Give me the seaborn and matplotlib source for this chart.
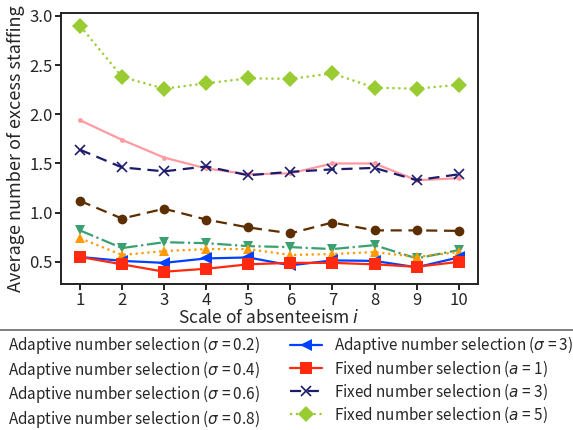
import matplotlib
matplotlib.use("Agg")
import matplotlib.pyplot as plt
import seaborn as sns
import numpy as np
import pandas as pd

scale = [1, 2, 3, 4, 5, 6, 7, 8, 9, 10]

adaptive_02 = [1.94, 1.74, 1.56, 1.45, 1.39, 1.40, 1.50, 1.50, 1.33, 1.35]
adaptive_04 = [1.12, 0.94, 1.04, 0.93, 0.85, 0.79, 0.90, 0.82, 0.82, 0.815]
adaptive_06 = [0.82, 0.64, 0.70, 0.69, 0.66, 0.65, 0.63, 0.67, 0.535, 0.62]
adaptive_08 = [0.74, 0.57, 0.61, 0.63, 0.63, 0.57, 0.58, 0.60, 0.55, 0.60]
adaptive_3 = [0.55, 0.51, 0.49, 0.535, 0.545, 0.465, 0.515, 0.51, 0.445, 0.545]
fixed_1 = [0.55, 0.475, 0.40, 0.43, 0.475, 0.49, 0.49, 0.475, 0.45, 0.50]
fixed_3 = [1.64, 1.46, 1.42, 1.47, 1.38, 1.415, 1.44, 1.455, 1.33, 1.39]
fixed_5 = [2.90, 2.38, 2.26, 2.315, 2.365, 2.36, 2.415, 2.27, 2.26, 2.30]

labels = [
    r"Adaptive number selection ($\sigma$ = 0.2)",
    r"Adaptive number selection ($\sigma$ = 0.4)",
    r"Adaptive number selection ($\sigma$ = 0.6)",
    r"Adaptive number selection ($\sigma$ = 0.8)",
    r"Adaptive number selection ($\sigma$ = 3)",
    r"Fixed number selection ($a$ = 1)",
    r"Fixed number selection ($a$ = 3)",
    r"Fixed number selection ($a$ = 5)",
]
series = [adaptive_02, adaptive_04, adaptive_06, adaptive_08,
          adaptive_3, fixed_1, fixed_3, fixed_5]

styles = [
    dict(color="#ff9aa2", marker=".", ms=7, ls="-", mew=0.0),
    dict(color="#5c2e00", marker="o", ms=7, ls=(0, (5, 3)), mew=0.0),
    dict(color="#3aa070", marker="v", ms=7, ls="-.", mew=0.0),
    dict(color="#ff9900", marker="^", ms=7, ls=":", mew=0.0),
    dict(color="#0040ff", marker="<", ms=8, ls="-", mew=0.0),
    dict(color="#ff2a10", marker="s", ms=8, ls="-", mew=0.0),
    dict(color="#1c1c6b", marker="x", ms=7, ls=(0, (5, 3)), mew=1.2),
    dict(color="#99cc33", marker="D", ms=8.5, ls=":", mew=0.0),
]

sns.set_theme(style="ticks")
plt.rcParams["font.family"] = ["Noto Sans CJK JP", "DejaVu Sans"]

fig = plt.figure(figsize=(5.73, 4.30), dpi=100)
ax = fig.add_axes([0.1065, 0.3395, 0.727, 0.6293])

for vals, lab, st in zip(series, labels, styles):
    df = pd.DataFrame({"x": scale, "y": vals})
    st = dict(st)
    ls = st.pop("ls")
    mew = st.pop("mew")
    sns.lineplot(data=df, x="x", y="y", ax=ax, label=lab, linestyle=ls,
                 linewidth=1.6, markeredgewidth=mew,
                 markeredgecolor=st["color"], **st)

ax.set_xticks(scale)
ax.set_xticklabels([str(v) for v in scale])
ax.set_yticks([0.5, 1.0, 1.5, 2.0, 2.5, 3.0])
ax.tick_params(axis="both", labelsize=12, direction="out", length=4, width=1.2,
               color="black", pad=2)
for sp in ax.spines.values():
    sp.set_visible(True)
    sp.set_linewidth(1.4)
    sp.set_color("#222222")
ax.set_xlabel(r"Scale of absenteeism $i$", fontsize=12.5, labelpad=0)
ax.set_ylabel("Average number of excess staffing", fontsize=13, labelpad=3)

leg = ax.legend(loc="upper center", bbox_to_anchor=(0.4976, -0.1847), ncol=2,
                fontsize=11, frameon=True, fancybox=False, edgecolor="#444444",
                handlelength=2.1, handletextpad=0.785, columnspacing=1.96,
                labelspacing=0.17, borderpad=0.0, borderaxespad=0.0)
frame = leg.get_frame()
frame.set_linewidth(1.2)
frame.set_boxstyle("square", pad=0.25)

fig.savefig("out.png", dpi=100)
